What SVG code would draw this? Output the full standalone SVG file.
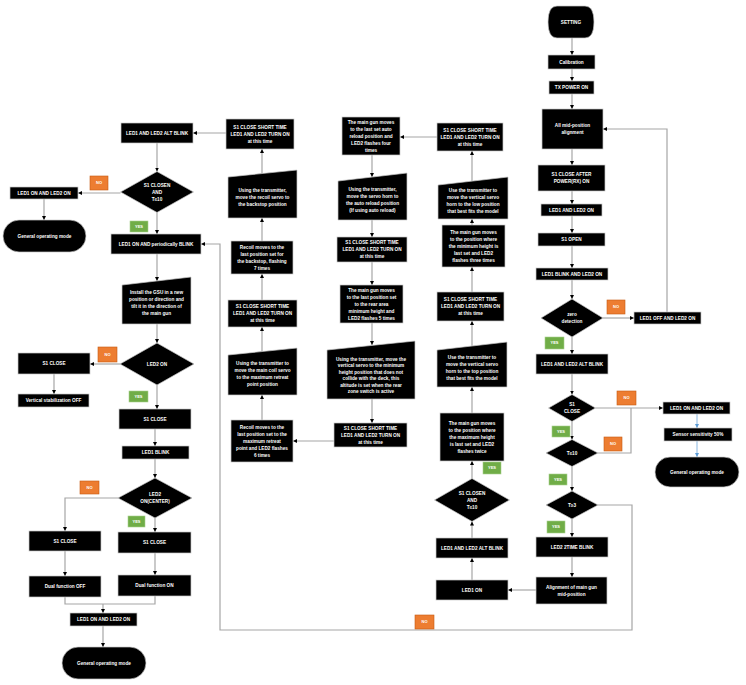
<svg xmlns="http://www.w3.org/2000/svg" width="746" height="685" viewBox="0 0 746 685">
<style>
.n{fill:#000;stroke:#c8c8c8;stroke-width:0.7}
.t{font-family:"Liberation Sans",Arial,sans-serif;font-size:4.7px;font-weight:bold;fill:#fff;text-anchor:middle}
.c{fill:none;stroke:#a6a6a6;stroke-width:1.2}
.b{fill:none;stroke:#9dc3e6;stroke-width:1.2}
.yes{fill:#70ad47;stroke:#a9d18e;stroke-width:0.6}
.no{fill:#ed7d31;stroke:#c55a11;stroke-width:0.6}
.lt{font-family:"Liberation Sans",Arial,sans-serif;font-size:4px;font-weight:bold;fill:#fff;text-anchor:middle}
</style>
<defs>
<marker id="a" markerUnits="userSpaceOnUse" markerWidth="5" markerHeight="5" refX="4" refY="2" orient="auto"><path d="M0,0 L4,2 L0,4 Z" fill="#000"/></marker>
<marker id="ab" markerUnits="userSpaceOnUse" markerWidth="5" markerHeight="5" refX="4" refY="2" orient="auto"><path d="M0,0 L4,2 L0,4 Z" fill="#5b9bd5"/></marker>
</defs>
<rect width="746" height="685" fill="#fff"/>
<g id="connectors">
<path class="c" d="M572,38 V55" marker-end="url(#a)"/>
<path class="c" d="M572,69 V81" marker-end="url(#a)"/>
<path class="c" d="M572,94 V109" marker-end="url(#a)"/>
<path class="c" d="M572,149 V165" marker-end="url(#a)"/>
<path class="c" d="M572,191 V204" marker-end="url(#a)"/>
<path class="c" d="M572,216 V233" marker-end="url(#a)"/>
<path class="c" d="M572,246 V268" marker-end="url(#a)"/>
<path class="c" d="M572,280 V299" marker-end="url(#a)"/>
<path class="c" d="M603,318 H634" marker-end="url(#a)"/>
<path class="c" d="M667,312 V129 H603" marker-end="url(#a)"/>
<path class="c" d="M572,337 V354" marker-end="url(#a)"/>
<path class="c" d="M572,374 V394.5" marker-end="url(#a)"/>
<path class="c" d="M595.5,408 H663" marker-end="url(#a)"/>
<path class="c" d="M598,453 H631 V408"/>
<path class="c" d="M572,421.5 V439.5" marker-end="url(#a)"/>
<path class="c" d="M572,466.5 V491" marker-end="url(#a)"/>
<path class="c" d="M572,519 V537" marker-end="url(#a)"/>
<path class="c" d="M572,557 V577" marker-end="url(#a)"/>
<path class="c" d="M536,590 H508" marker-end="url(#a)"/>
<path class="c" d="M472,580 V558" marker-end="url(#a)"/>
<path class="c" d="M472,538 V521.5" marker-end="url(#a)"/>
<path class="c" d="M472,478.5 V461" marker-end="url(#a)"/>
<path class="c" d="M472,413 V387" marker-end="url(#a)"/>
<path class="c" d="M472,346 V321" marker-end="url(#a)"/>
<path class="c" d="M472,292 V267" marker-end="url(#a)"/>
<path class="c" d="M472,225 V219" marker-end="url(#a)"/>
<path class="c" d="M472,181 V151" marker-end="url(#a)"/>
<path class="c" d="M437,137 H400" marker-end="url(#a)"/>
<path class="c" d="M372,155 V177" marker-end="url(#a)"/>
<path class="c" d="M372,220 V237" marker-end="url(#a)"/>
<path class="c" d="M372,262 V285" marker-end="url(#a)"/>
<path class="c" d="M372,323 V345" marker-end="url(#a)"/>
<path class="c" d="M372,399 V423" marker-end="url(#a)"/>
<path class="c" d="M334,441 H293" marker-end="url(#a)"/>
<path class="c" d="M262,420 V395" marker-end="url(#a)"/>
<path class="c" d="M262,351.5 V327" marker-end="url(#a)"/>
<path class="c" d="M262,300 V274" marker-end="url(#a)"/>
<path class="c" d="M262,241 V218" marker-end="url(#a)"/>
<path class="c" d="M262,173.5 V149" marker-end="url(#a)"/>
<path class="c" d="M226,133 H193" marker-end="url(#a)"/>
<path class="c" d="M157,143 V171.5" marker-end="url(#a)"/>
<path class="c" d="M120.5,193 H78" marker-end="url(#a)"/>
<path class="c" d="M44,199 V220" marker-end="url(#a)"/>
<path class="c" d="M157,212.5 V234" marker-end="url(#a)"/>
<path class="c" d="M157,254 V281" marker-end="url(#a)"/>
<path class="c" d="M157,324 V343" marker-end="url(#a)"/>
<path class="c" d="M120,364 H90" marker-end="url(#a)"/>
<path class="c" d="M54,374 V394" marker-end="url(#a)"/>
<path class="c" d="M157,385 V409" marker-end="url(#a)"/>
<path class="c" d="M155,429 V446" marker-end="url(#a)"/>
<path class="c" d="M155,459 V478" marker-end="url(#a)"/>
<path class="c" d="M118,498 H65 V531" marker-end="url(#a)"/>
<path class="c" d="M155,518 V532" marker-end="url(#a)"/>
<path class="c" d="M65,551 V576" marker-end="url(#a)"/>
<path class="c" d="M155,553 V575" marker-end="url(#a)"/>
<path class="c" d="M65,597 V604 H155 V596"/>
<path class="c" d="M103,604 V613" marker-end="url(#a)"/>
<path class="c" d="M103,626 V647" marker-end="url(#a)"/>
<path class="c" d="M598,505 H632 V630 H220 V244 H201" marker-end="url(#a)"/>
<path class="b" d="M697,414 V428" marker-end="url(#ab)"/>
<path class="b" d="M697,441 V457" marker-end="url(#ab)"/>
</g>
<g id="n-setting"><path class="n" d="M557,6 H585 Q594,6 594,22 Q594,38 585,38 H557 Q548,38 548,22 Q548,6 557,6 Z"/><text class="t" x="571" y="23.8">SETTING</text></g>
<g id="n-calibration"><rect class="n" x="548" y="55" width="47" height="14"/><text class="t" x="571.5" y="63.8">Calibration</text></g>
<g id="n-tx"><rect class="n" x="549" y="81" width="45" height="13"/><text class="t" x="571.5" y="89.3">TX POWER ON</text></g>
<g id="n-allmid"><rect class="n" x="542" y="109" width="61" height="40"/><text class="t"><tspan x="572.5" y="127.3">All mid-position</tspan><tspan x="572.5" y="134.3">alignment</tspan></text></g>
<g id="n-s1after"><rect class="n" x="538" y="165" width="67" height="26"/><text class="t"><tspan x="571.5" y="176.3">S1 CLOSE  AFTER</tspan><tspan x="571.5" y="183.3">POWER(RX) ON</tspan></text></g>
<g id="n-led12on"><rect class="n" x="541" y="204" width="61" height="12"/><text class="t" x="571.5" y="211.8">LED1 AND LED2 ON</text></g>
<g id="n-s1open"><rect class="n" x="538" y="233" width="67" height="13"/><text class="t" x="571.5" y="241.3">S1 OPEN</text></g>
<g id="n-led1blink"><rect class="n" x="536" y="268" width="72" height="12"/><text class="t" x="572" y="275.8">LED1 BLINK AND LED2 ON</text></g>
<g id="n-zero"><polygon class="n" points="541,318 572,299 603,318 572,337"/><text class="t"><tspan x="572" y="316.3">zero</tspan><tspan x="572" y="323.3">detection</tspan></text></g>
<g id="n-led1off"><rect class="n" x="634" y="312" width="67" height="12"/><text class="t" x="667.5" y="319.8">LED1 OFF AND LED2 ON</text></g>
<g id="n-altblink-r"><rect class="n" x="536" y="354" width="72" height="20"/><text class="t" x="572" y="365.8">LED1 AND LED2 ALT BLINK</text></g>
<g id="n-s1close-d"><polygon class="n" points="548.5,408 572,394.5 595.5,408 572,421.5"/><text class="t"><tspan x="572" y="406.3">S1</tspan><tspan x="572" y="413.3">CLOSE</tspan></text></g>
<g id="n-t10-d"><polygon class="n" points="546,453 572,439.5 598,453 572,466.5"/><text class="t" x="572" y="454.8">T≤10</text></g>
<g id="n-led12on-r"><rect class="n" x="663" y="402" width="67" height="12"/><text class="t" x="696.5" y="409.8">LED1 ON AND LED2 ON</text></g>
<g id="n-sensor"><rect class="n" x="664" y="428" width="68" height="13"/><text class="t" x="698" y="436.3">Sensor sensitivity 50%</text></g>
<g id="n-gom-r"><rect class="n" x="655" y="457" width="84" height="30" rx="15"/><text class="t" x="697" y="473.8">General operating mode</text></g>
<g id="n-t3-d"><polygon class="n" points="546,505 572,491 598,505 572,519"/><text class="t" x="572" y="506.8">T≥3</text></g>
<g id="n-led2-2time"><rect class="n" x="536" y="537" width="72" height="20"/><text class="t" x="572" y="548.8">LED2 2TIME BLINK</text></g>
<g id="n-align"><rect class="n" x="536" y="577" width="71" height="27"/><text class="t"><tspan x="571.5" y="588.8">Alignment of main gun</tspan><tspan x="571.5" y="595.8">mid-position</tspan></text></g>
<g id="n-led1on"><rect class="n" x="436" y="580" width="72" height="20"/><text class="t" x="472" y="591.8">LED1 ON</text></g>
<g id="n-altblink-c"><rect class="n" x="436" y="538" width="72" height="20"/><text class="t" x="472" y="549.8">LED1 AND LED2 ALT BLINK</text></g>
<g id="n-s1closen-c"><polygon class="n" points="434.5,500 472,478.5 509.5,500 472,521.5"/><text class="t"><tspan x="472" y="494.8">S1 CLOSEN</tspan><tspan x="472" y="501.8">AND</tspan><tspan x="472" y="508.8">T≤10</tspan></text></g>
<g id="n-maxheight"><rect class="n" x="440" y="413" width="64" height="48"/><text class="t"><tspan x="472" y="424.8">The main gun moves</tspan><tspan x="472" y="431.8">to the position where</tspan><tspan x="472" y="438.8">the maximum height</tspan><tspan x="472" y="445.8">is last set and LED2</tspan><tspan x="472" y="452.8">flashes twice</tspan></text></g>
<g id="n-toppos"><polygon class="n" points="437,350 507,342 507,387 437,387"/><text class="t"><tspan x="472" y="359.3">Use the transmitter to</tspan><tspan x="472" y="366.3">move the vertical servo</tspan><tspan x="472" y="373.3">horn to the top position</tspan><tspan x="472" y="380.3">that best fits the model</tspan></text></g>
<g id="n-s1short-c2"><rect class="n" x="437" y="292" width="67" height="29"/><text class="t"><tspan x="470.5" y="301.3">S1 CLOSE SHORT TIME</tspan><tspan x="470.5" y="308.3">LED1 AND LED2 TURN ON</tspan><tspan x="470.5" y="315.3">at this time</tspan></text></g>
<g id="n-minheight"><rect class="n" x="442" y="225" width="63" height="42"/><text class="t"><tspan x="473.5" y="233.8">The main gun moves</tspan><tspan x="473.5" y="240.8">to the position where</tspan><tspan x="473.5" y="247.8">the minimum height is</tspan><tspan x="473.5" y="254.8">last set and LED2</tspan><tspan x="473.5" y="261.8">flashes three times</tspan></text></g>
<g id="n-lowpos"><polygon class="n" points="438,185 508,177 508,219 438,219"/><text class="t"><tspan x="473" y="192.3">Use the transmitter to</tspan><tspan x="473" y="199.3">move the vertical servo</tspan><tspan x="473" y="206.3">horn to the low position</tspan><tspan x="473" y="213.3">that best fits the model</tspan></text></g>
<g id="n-s1short-c1"><rect class="n" x="437" y="123" width="66" height="28"/><text class="t"><tspan x="470" y="131.8">S1 CLOSE SHORT TIME</tspan><tspan x="470" y="138.8">LED1 AND LED2 TURN ON</tspan><tspan x="470" y="145.8">at this time</tspan></text></g>
<g id="n-autoreload"><rect class="n" x="342" y="117" width="58" height="38"/><text class="t"><tspan x="371" y="123.8">The main gun moves</tspan><tspan x="371" y="130.8">to the last set auto</tspan><tspan x="371" y="137.8">reload position and</tspan><tspan x="371" y="144.8">LED2 flashes four</tspan><tspan x="371" y="151.8">times</tspan></text></g>
<g id="n-servohorn"><polygon class="n" points="338,181 407,173 407,220 338,220"/><text class="t"><tspan x="372.5" y="191.3">Using the transmitter,</tspan><tspan x="372.5" y="198.3">move the servo horn to</tspan><tspan x="372.5" y="205.3">the auto reload position</tspan><tspan x="372.5" y="212.3">(If using auto reload)</tspan></text></g>
<g id="n-s1short-m1"><rect class="n" x="337" y="237" width="70" height="25"/><text class="t"><tspan x="372" y="244.3">S1 CLOSE SHORT TIME</tspan><tspan x="372" y="251.3">LED1 AND LED2 TURN ON</tspan><tspan x="372" y="258.3">at this time</tspan></text></g>
<g id="n-reararea"><rect class="n" x="340" y="285" width="63" height="38"/><text class="t"><tspan x="371.5" y="291.8">The main gun moves</tspan><tspan x="371.5" y="298.8">to the last position set</tspan><tspan x="371.5" y="305.8">to the rear area</tspan><tspan x="371.5" y="312.8">minimum height and</tspan><tspan x="371.5" y="319.8">LED2 flashes 5 times</tspan></text></g>
<g id="n-deck"><polygon class="n" points="327,350 415,341 415,399 327,399"/><text class="t"><tspan x="371" y="360.6">Using the transmitter, move the</tspan><tspan x="371" y="367.1">vertical servo to the minimum</tspan><tspan x="371" y="373.6">height position that does not</tspan><tspan x="371" y="380.1">collide with the deck, this</tspan><tspan x="371" y="386.6">altitude is set when the rear</tspan><tspan x="371" y="393.1">zone switch is active</tspan></text></g>
<g id="n-s1short-m2"><rect class="n" x="334" y="423" width="73" height="24"/><text class="t"><tspan x="370.5" y="429.8">S1 CLOSE SHORT TIME</tspan><tspan x="370.5" y="436.8">LED1 AND LED2 TURN ON</tspan><tspan x="370.5" y="443.8">at this time</tspan></text></g>
<g id="n-maxretreat"><rect class="n" x="231" y="420" width="62" height="42"/><text class="t"><tspan x="262" y="428.8">Recoil moves to the</tspan><tspan x="262" y="435.8">last position set to the</tspan><tspan x="262" y="442.8">maximum retreat</tspan><tspan x="262" y="449.8">point and LED2 flashes</tspan><tspan x="262" y="456.8">6 times</tspan></text></g>
<g id="n-maincoil"><polygon class="n" points="228,355 297,348 297,395 228,395"/><text class="t"><tspan x="262.5" y="365.3">Using the transmitter to</tspan><tspan x="262.5" y="372.3">move the main coil servo</tspan><tspan x="262.5" y="379.3">to the maximum retreat</tspan><tspan x="262.5" y="386.3">point position</tspan></text></g>
<g id="n-s1short-l2"><rect class="n" x="228" y="300" width="69" height="27"/><text class="t"><tspan x="262.5" y="308.3">S1 CLOSE SHORT TIME</tspan><tspan x="262.5" y="315.3">LED1 AND LED2 TURN ON</tspan><tspan x="262.5" y="322.3">at this time</tspan></text></g>
<g id="n-backstop"><rect class="n" x="231" y="241" width="62" height="33"/><text class="t"><tspan x="262" y="248.8">Recoil moves to the</tspan><tspan x="262" y="255.8">last position set for</tspan><tspan x="262" y="262.8">the backstop, flashing</tspan><tspan x="262" y="269.8">7 times</tspan></text></g>
<g id="n-recoilservo"><polygon class="n" points="228,177 297,170 297,218 228,218"/><text class="t"><tspan x="262.5" y="191.8">Using the transmitter,</tspan><tspan x="262.5" y="198.8">move the recoil servo to</tspan><tspan x="262.5" y="205.8">the backstop position</tspan></text></g>
<g id="n-s1short-l1"><rect class="n" x="226" y="119" width="68" height="30"/><text class="t"><tspan x="260" y="128.8">S1 CLOSE SHORT TIME</tspan><tspan x="260" y="135.8">LED1 AND LED2 TURN ON</tspan><tspan x="260" y="142.8">at this time</tspan></text></g>
<g id="n-altblink-l"><rect class="n" x="121" y="123" width="72" height="20"/><text class="t" x="157" y="134.8">LED1 AND LED2 ALT BLINK</text></g>
<g id="n-s1closen-l"><polygon class="n" points="120.5,192 157,171.5 193.5,192 157,212.5"/><text class="t"><tspan x="157" y="186.8">S1 CLOSEN</tspan><tspan x="157" y="193.8">AND</tspan><tspan x="157" y="200.8">T≤10</tspan></text></g>
<g id="n-led12on-l"><rect class="n" x="10" y="187" width="68" height="12"/><text class="t" x="44" y="194.8">LED1 ON AND LED2 ON</text></g>
<g id="n-gom-l1"><rect class="n" x="3" y="220" width="83" height="32" rx="16"/><text class="t" x="44.5" y="237.8">General operating mode</text></g>
<g id="n-periodic"><rect class="n" x="111" y="234" width="90" height="20"/><text class="t" x="156" y="245.8">LED1 ON AND periodically BLINK</text></g>
<g id="n-gsu"><polygon class="n" points="122,285 191,277 191,324 122,324"/><text class="t"><tspan x="156.5" y="294.3">Install the GSU in a new</tspan><tspan x="156.5" y="301.3">position or direction and</tspan><tspan x="156.5" y="308.3">tilt it in the direction of</tspan><tspan x="156.5" y="315.3">the main gun</tspan></text></g>
<g id="n-led2on-d"><polygon class="n" points="120,364 157,343 194,364 157,385"/><text class="t" x="157" y="365.8">LED2 ON</text></g>
<g id="n-s1close-vs"><rect class="n" x="18" y="353" width="72" height="21"/><text class="t" x="54" y="365.3">S1 CLOSE</text></g>
<g id="n-vstab"><rect class="n" x="18" y="394" width="71" height="13"/><text class="t" x="53.5" y="402.3">Vertical stabilization OFF</text></g>
<g id="n-s1close-l"><rect class="n" x="119" y="409" width="72" height="20"/><text class="t" x="155" y="420.8">S1 CLOSE</text></g>
<g id="n-led1blink-l"><rect class="n" x="122" y="446" width="67" height="13"/><text class="t" x="155.5" y="454.3">LED1 BLINK</text></g>
<g id="n-center-d"><polygon class="n" points="118,498 155,478 192,498 155,518"/><text class="t"><tspan x="155" y="496.3">LED2</tspan><tspan x="155" y="503.3">ON(CENTER)</tspan></text></g>
<g id="n-s1close-off"><rect class="n" x="29" y="531" width="72" height="20"/><text class="t" x="65" y="542.8">S1 CLOSE</text></g>
<g id="n-s1close-on"><rect class="n" x="118" y="532" width="73" height="21"/><text class="t" x="154.5" y="544.3">S1 CLOSE</text></g>
<g id="n-dualoff"><rect class="n" x="29" y="576" width="72" height="21"/><text class="t" x="65" y="588.3">Dual function OFF</text></g>
<g id="n-dualon"><rect class="n" x="118" y="575" width="73" height="21"/><text class="t" x="154.5" y="587.3">Dual function ON</text></g>
<g id="n-led12on-b"><rect class="n" x="70" y="613" width="67" height="13"/><text class="t" x="103.5" y="621.3">LED1 ON AND LED2 ON</text></g>
<g id="n-gom-l2"><rect class="n" x="62" y="647" width="84" height="32" rx="16"/><text class="t" x="104" y="664.8">General operating mode</text></g>
<g id="labels">
<rect class="yes" x="545" y="337" width="19" height="12"/><text class="lt" x="554.5" y="344.4">YES</text>
<rect class="yes" x="552" y="426" width="18" height="11"/><text class="lt" x="561" y="432.9">YES</text>
<rect class="yes" x="549" y="474" width="18" height="11"/><text class="lt" x="558" y="480.9">YES</text>
<rect class="yes" x="547" y="521" width="18" height="12"/><text class="lt" x="556" y="528.4">YES</text>
<rect class="yes" x="483" y="462" width="18" height="12"/><text class="lt" x="492" y="469.4">YES</text>
<rect class="yes" x="130" y="221" width="18" height="11"/><text class="lt" x="139" y="227.9">YES</text>
<rect class="yes" x="129" y="391" width="19" height="11"/><text class="lt" x="138.5" y="397.9">YES</text>
<rect class="yes" x="128" y="516" width="17" height="11"/><text class="lt" x="136.5" y="522.9">YES</text>
<rect class="no" x="607" y="300" width="18" height="14"/><text class="lt" x="616" y="308.4">NO</text>
<rect class="no" x="617" y="391" width="19" height="14"/><text class="lt" x="626.5" y="399.4">NO</text>
<rect class="no" x="604" y="437" width="18" height="14"/><text class="lt" x="613" y="445.4">NO</text>
<rect class="no" x="415" y="615" width="19" height="14"/><text class="lt" x="424.5" y="623.4">NO</text>
<rect class="no" x="90" y="176" width="18" height="14"/><text class="lt" x="99" y="184.4">NO</text>
<rect class="no" x="98" y="347" width="19" height="15"/><text class="lt" x="107.5" y="355.9">NO</text>
<rect class="no" x="80" y="481" width="19" height="13"/><text class="lt" x="89.5" y="488.9">NO</text>
</g>
</svg>
